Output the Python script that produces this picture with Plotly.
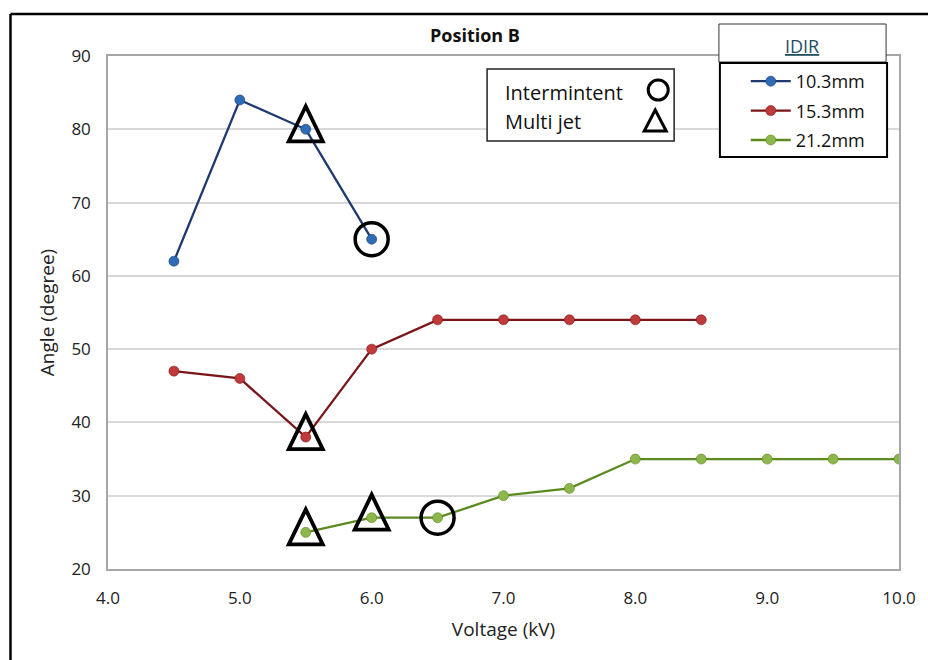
import plotly.graph_objects as go

# ---- data ----
v_103 = [4.5, 5.0, 5.5, 6.0]
a_103 = [62, 84, 80, 65]
v_153 = [4.5, 5.0, 5.5, 6.0, 6.5, 7.0, 7.5, 8.0, 8.5]
a_153 = [47, 46, 38, 50, 54, 54, 54, 54, 54]
v_212 = [5.5, 6.0, 6.5, 7.0, 7.5, 8.0, 8.5, 9.0, 9.5, 10.0]
a_212 = [25, 27, 27, 30, 31, 35, 35, 35, 35, 35]
series_names = ["10.3mm", "15.3mm", "21.2mm"]
# regime markers
inter_v = [6.0, 6.5]
inter_a = [65, 27]
multi_v = [5.5, 5.5, 5.5, 6.0]
multi_a = [80, 38, 25, 27]
x_ticks = [4.0, 5.0, 6.0, 7.0, 8.0, 9.0, 10.0]
y_ticks = [20, 30, 40, 50, 60, 70, 80, 90]

W, H = 928, 660
L, R, T, B = 108, 903, 56, 569

def px(x):
    return (x - L) / (R - L)

def py(y):
    return (B - y) / (B - T)

FONT = "Open Sans"
fig = go.Figure()

styles = [("#1F3A70", "#2E6CB5"), ("#7A1518", "#C0393B"), ("#5C8A1E", "#8DB64C")]
for (xs, ys), name, (lc, mc) in zip([(v_103, a_103), (v_153, a_153), (v_212, a_212)], series_names, styles):
    fig.add_trace(go.Scatter(x=xs, y=ys, name=name, mode="lines+markers",
                             line=dict(color=lc, width=2.3),
                             marker=dict(color=mc, size=10, line=dict(color=lc, width=0.6)),
                             legendgroup=name))

fig.add_trace(go.Scatter(x=inter_v, y=inter_a, mode="markers", showlegend=False, name="Intermintent",
                         marker=dict(symbol="circle-open", size=33, color="black", line=dict(width=3.5))))

shapes = []
# multi-jet triangles, anchored at the data points (size in pixels)
for xv, yv in zip(multi_v, multi_a):
    shapes.append(dict(type="path", xref="x", yref="y", xsizemode="pixel", ysizemode="pixel",
                       xanchor=xv, yanchor=yv, path="M -17,-12 L 17,-12 L 0,23 Z",
                       line=dict(color="black", width=3.8)))

axis_common = dict(showline=True, mirror=True, linecolor="#A6A6A6", linewidth=1.5,
                   ticks="outside", tickcolor="rgba(0,0,0,0)",
                   tickfont=dict(family=FONT, size=17, color="#222"), zeroline=False)
fig.update_xaxes(range=[4, 10], tickvals=x_ticks, tickformat=".1f", showgrid=False, ticklen=13,
                 title=dict(text="Voltage (kV)", font=dict(family=FONT, size=19, color="#222"), standoff=15),
                 **axis_common)
fig.update_yaxes(range=[20, 90], tickvals=y_ticks, showgrid=True, gridcolor="#D9D9D9", gridwidth=1.5,
                 ticklen=12,
                 title=dict(text="Angle (degree)", font=dict(family=FONT, size=19, color="#222"), standoff=12),
                 **axis_common)

# outer frame (top and left edges)
shapes.append(dict(type="line", xref="paper", yref="paper", x0=px(10), x1=px(W + 5), y0=py(14), y1=py(14),
                   line=dict(color="black", width=2.5)))
shapes.append(dict(type="line", xref="paper", yref="paper", x0=px(10), x1=px(10), y0=py(14), y1=py(H + 5),
                   line=dict(color="black", width=2.5)))
# IDIR header box
shapes.append(dict(type="rect", xref="paper", yref="paper", x0=px(722), x1=px(890), y0=py(24), y1=py(62),
                   line=dict(color="#333", width=1), fillcolor="white"))
# legend box
shapes.append(dict(type="rect", xref="paper", yref="paper", x0=px(723), x1=px(891), y0=py(63), y1=py(157),
                   line=dict(color="black", width=2), fillcolor="white"))
# regime key box
shapes.append(dict(type="rect", xref="paper", yref="paper", x0=px(489), x1=px(677), y0=py(69), y1=py(141),
                   line=dict(color="#222", width=1.5), fillcolor="white"))
# key symbols
shapes.append(dict(type="circle", xref="paper", yref="paper", xsizemode="pixel", ysizemode="pixel",
                   xanchor=px(661), yanchor=py(90), x0=-10, x1=10, y0=-10, y1=10,
                   line=dict(color="black", width=3)))
shapes.append(dict(type="path", xref="paper", yref="paper", xsizemode="pixel", ysizemode="pixel",
                   xanchor=px(658), yanchor=py(121),
                   path="M -11,-10 L 11,-10 L 0,11 Z", line=dict(color="black", width=3)))

annotations = [
    dict(text="<b>Position B</b>", xref="paper", yref="paper", x=px(477), y=py(35), xanchor="center",
         yanchor="middle", showarrow=False, font=dict(family=FONT, size=18, color="#111")),
    dict(text="<u>IDIR</u>", xref="paper", yref="paper", x=px(806), y=py(46), xanchor="center",
         yanchor="middle", showarrow=False, font=dict(family=FONT, size=18, color="#1F4E5F")),
    dict(text="Intermintent", xref="paper", yref="paper", x=px(505), y=py(92), xanchor="left",
         yanchor="middle", showarrow=False, font=dict(family=FONT, size=20, color="#111")),
    dict(text="Multi jet", xref="paper", yref="paper", x=px(505), y=py(121), xanchor="left",
         yanchor="middle", showarrow=False, font=dict(family=FONT, size=20, color="#111")),
]

fig.update_layout(
    width=W, height=H,
    margin=dict(l=L, r=W - R, t=T, b=H - B),
    plot_bgcolor="white", paper_bgcolor="white",
    shapes=shapes, annotations=annotations,
    legend=dict(x=px(749), y=py(63), xanchor="left", yanchor="top", bgcolor="rgba(0,0,0,0)",
                font=dict(family=FONT, size=18, color="#111"), tracegroupgap=3, itemwidth=40),
)

fig.write_html("out.html", config={"displayModeBar": False},
               post_script="document.body.style.margin='0';document.body.style.overflow='hidden';")
